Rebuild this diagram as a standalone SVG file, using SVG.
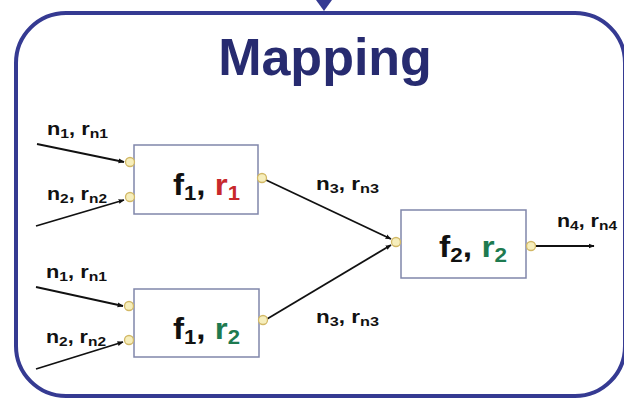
<svg xmlns="http://www.w3.org/2000/svg" width="624" height="400" viewBox="0 0 624 400">
<style>
.frame{fill:#ffffff;stroke:#353a92;stroke-width:4}
.box{fill:#ffffff;stroke:#8086aa;stroke-width:1.5}
.port{fill:#f6eebc;stroke:#d2b866;stroke-width:1.3}
.wire{stroke:#111111;stroke-width:1.8;fill:none;marker-end:url(#ah)}
.lbl{font-family:"Liberation Sans",Arial,sans-serif;font-weight:bold;font-size:18px;fill:#111111}
.fn{font-family:"Liberation Sans",Arial,sans-serif;font-weight:bold;font-size:30px;fill:#111111}
.title{font-family:"Liberation Sans",Arial,sans-serif;font-weight:bold;font-size:52px;fill:#272b70}
.red{fill:#c8282c}
.grn{fill:#1e7a50}
</style>
<defs>
<marker id="ah" viewBox="0 0 10 10" refX="9" refY="5" markerWidth="6" markerHeight="6" orient="auto" markerUnits="userSpaceOnUse">
<path d="M0,1 L10,5 L0,9 z" fill="#111111"/>
</marker>
</defs>
<rect width="624" height="400" fill="#ffffff"/>
<g id="frame">
<rect class="frame" x="16" y="13" width="609" height="383" rx="50" ry="50"/>
<polygon points="316,0 332,0 324,11" fill="#353a92"/>
<text class="title" x="325" y="75" text-anchor="middle">Mapping</text>
</g>
<g id="connectors">
<line class="wire" x1="37" y1="144" x2="124" y2="162"/>
<line class="wire" x1="36" y1="226" x2="124" y2="200"/>
<line class="wire" x1="36" y1="287" x2="123" y2="306"/>
<line class="wire" x1="36" y1="369" x2="123" y2="342"/>
<line class="wire" x1="266" y1="180" x2="391" y2="239"/>
<line class="wire" x1="267" y1="319" x2="391" y2="245"/>
<line class="wire" x1="535" y1="246" x2="594" y2="246"/>
</g>
<g id="labels">
<text class="lbl" x="47" y="135" textLength="61" lengthAdjust="spacingAndGlyphs">n<tspan font-size="13" dy="3">1</tspan><tspan dy="-3">, r</tspan><tspan font-size="13" dy="3">n1</tspan></text>
<text class="lbl" x="47" y="200" textLength="60" lengthAdjust="spacingAndGlyphs">n<tspan font-size="13" dy="3">2</tspan><tspan dy="-3">, r</tspan><tspan font-size="13" dy="3">n2</tspan></text>
<text class="lbl" x="46" y="278" textLength="61" lengthAdjust="spacingAndGlyphs">n<tspan font-size="13" dy="3">1</tspan><tspan dy="-3">, r</tspan><tspan font-size="13" dy="3">n1</tspan></text>
<text class="lbl" x="46" y="343" textLength="60" lengthAdjust="spacingAndGlyphs">n<tspan font-size="13" dy="3">2</tspan><tspan dy="-3">, r</tspan><tspan font-size="13" dy="3">n2</tspan></text>
<text class="lbl" x="316" y="190" textLength="63" lengthAdjust="spacingAndGlyphs">n<tspan font-size="13" dy="3">3</tspan><tspan dy="-3">, r</tspan><tspan font-size="13" dy="3">n3</tspan></text>
<text class="lbl" x="316" y="323" textLength="63" lengthAdjust="spacingAndGlyphs">n<tspan font-size="13" dy="3">3</tspan><tspan dy="-3">, r</tspan><tspan font-size="13" dy="3">n3</tspan></text>
<text class="lbl" x="557" y="227" textLength="60" lengthAdjust="spacingAndGlyphs">n<tspan font-size="13" dy="3">4</tspan><tspan dy="-3">, r</tspan><tspan font-size="13" dy="3">n4</tspan></text>
</g>
<g id="node-f1-r1">
<rect class="box" x="134" y="145" width="124" height="69"/>
<text class="fn" x="173" y="195" textLength="67" lengthAdjust="spacingAndGlyphs">f<tspan font-size="20" dy="5">1</tspan><tspan dy="-5">, </tspan><tspan class="red">r</tspan><tspan class="red" font-size="20" dy="5">1</tspan></text>
<circle class="port" cx="130" cy="162" r="4.5"/>
<circle class="port" cx="130" cy="197" r="4.5"/>
<circle class="port" cx="262" cy="178" r="4.5"/>
</g>
<g id="node-f1-r2">
<rect class="box" x="134" y="289" width="125" height="68"/>
<text class="fn" x="173" y="339" textLength="67" lengthAdjust="spacingAndGlyphs">f<tspan font-size="20" dy="5">1</tspan><tspan dy="-5">, </tspan><tspan class="grn">r</tspan><tspan class="grn" font-size="20" dy="5">2</tspan></text>
<circle class="port" cx="129" cy="306" r="4.5"/>
<circle class="port" cx="129" cy="340" r="4.5"/>
<circle class="port" cx="263" cy="320" r="4.5"/>
</g>
<g id="node-f2-r2">
<rect class="box" x="401" y="210" width="125" height="68"/>
<text class="fn" x="439" y="257" textLength="68" lengthAdjust="spacingAndGlyphs">f<tspan font-size="20" dy="5">2</tspan><tspan dy="-5">, </tspan><tspan class="grn">r</tspan><tspan class="grn" font-size="20" dy="5">2</tspan></text>
<circle class="port" cx="396" cy="242" r="4.5"/>
<circle class="port" cx="531" cy="246" r="4.5"/>
</g>
</svg>
